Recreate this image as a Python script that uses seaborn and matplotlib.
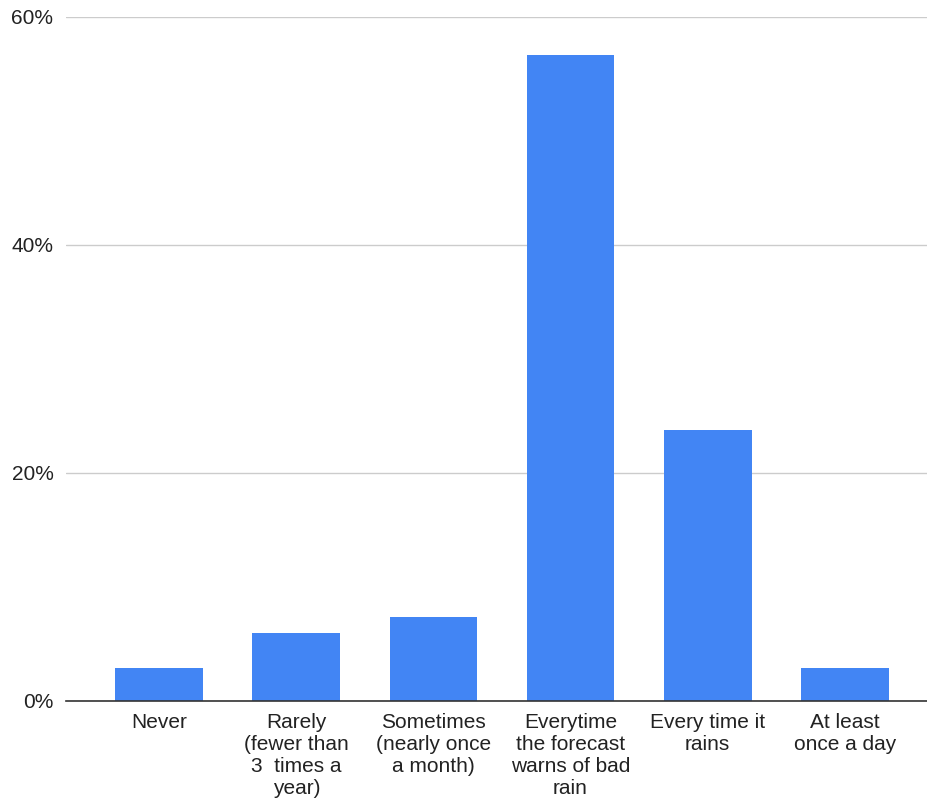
import matplotlib
matplotlib.use('Agg')
import matplotlib.pyplot as plt
import seaborn as sns
import pandas as pd

# Survey answers and share of respondents (%)
categories = ['Never',
              'Rarely\n(fewer than\n3  times a\nyear)',
              'Sometimes\n(nearly once\na month)',
              'Everytime\nthe forecast\nwarns of bad\nrain',
              'Every time it\nrains',
              'At least\nonce a day']
shares = [2.9, 6.0, 7.4, 56.7, 23.8, 2.9]
yticks = [0, 20, 40, 60]
ytick_labels = ['0%', '20%', '40%', '60%']

df = pd.DataFrame({'category': categories, 'share': shares})

sns.set_style('white')
plt.rcParams['font.family'] = ['Liberation Sans', 'DejaVu Sans']

fig = plt.figure(figsize=(9.27, 7.99), dpi=100)
ax = fig.add_axes([66 / 927, 1 - 701 / 799, 1 - 66 / 927, (701 - 17) / 799])

sns.barplot(data=df, x='category', y='share', color='#4285F4',
            saturation=1, width=0.64, linewidth=0, ax=ax)

ax.set_ylim(0, 60)
ax.set_xlim(-0.68, 5.6)
ax.set_yticks(yticks)
ax.set_yticklabels(ytick_labels, fontsize=15, color='#222222')
ax.tick_params(axis='y', length=0, pad=9)
ax.tick_params(axis='x', length=0, pad=9, labelsize=15, labelcolor='#222222')
for lbl in ax.get_xticklabels():
    lbl.set_linespacing(1.2)

ax.yaxis.grid(True, color='#cccccc', linewidth=1)
ax.set_axisbelow(True)
for side in ['top', 'right', 'left']:
    ax.spines[side].set_visible(False)
ax.spines['bottom'].set_color('#333333')
ax.spines['bottom'].set_linewidth(1.2)
ax.set_xlabel('')
ax.set_ylabel('')

fig.savefig('out.png', dpi=100)
